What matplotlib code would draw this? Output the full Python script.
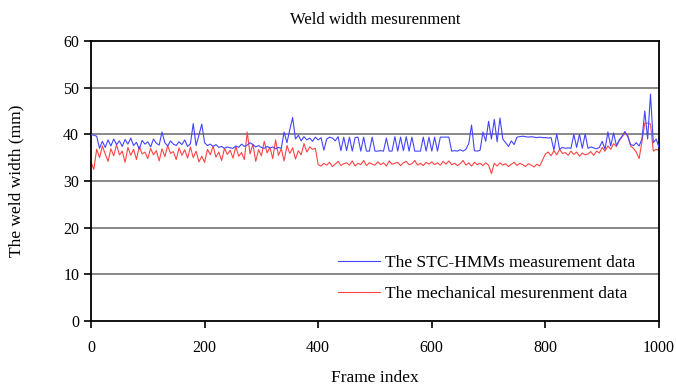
import numpy as np
import matplotlib
matplotlib.use("Agg")
from matplotlib import pyplot as plt

# frame index, one reading every 5 frames
frames = np.arange(0, 1001, 5)

# STC-HMMs measurement (mm)
stc_hmms = [
    40.0, 39.8, 39.6, 37.0, 38.5, 37.2, 38.8, 37.5, 39.0, 37.8,
    38.6, 37.4, 38.9, 37.9, 39.2, 37.6, 38.3, 36.8, 38.7, 37.9,
    38.4, 37.3, 39.0, 38.1, 37.7, 40.5, 38.2, 37.5, 38.6, 37.9,
    37.6, 38.4, 37.8, 38.8, 37.4, 38.0, 42.3, 37.6, 39.8, 42.2,
    38.2, 37.6, 37.9, 37.4, 37.8, 37.2, 37.4, 37.0, 37.3, 37.1,
    37.0, 37.5, 37.2, 37.9, 37.4, 37.7, 38.2, 37.8, 37.3, 37.6,
    37.2, 37.0, 37.4, 37.1, 37.3, 36.9, 37.2, 37.0, 40.5, 38.2,
    41.0, 43.6, 39.0, 39.8, 38.6, 39.5, 38.8, 39.2, 38.5, 39.4,
    38.8, 39.3, 36.6, 39.0, 39.4, 39.2, 38.6, 39.5, 36.5, 39.4,
    36.5, 39.4, 36.4, 39.3, 39.4, 36.4, 39.4, 36.4, 36.4, 39.4,
    36.4, 36.4, 36.5, 36.4, 39.2, 36.4, 36.4, 39.5, 36.4, 39.4,
    36.5, 39.5, 36.4, 39.4, 36.4, 36.4, 36.4, 39.4, 36.4, 39.4,
    36.4, 39.4, 36.4, 39.4, 39.4, 39.4, 39.4, 36.4, 36.5, 36.4,
    36.7, 36.4, 36.8, 38.0, 42.0, 36.5, 36.4, 36.6, 40.5, 38.5,
    42.8, 39.0, 43.2, 38.4, 43.5, 39.0, 38.2, 37.4, 38.6, 37.8,
    39.4, 39.5, 39.6, 39.5, 39.4, 39.5, 39.4, 39.3, 39.4, 39.3,
    39.3, 39.2, 39.3, 36.6, 40.1, 36.8, 37.2, 37.0, 37.1, 37.0,
    40.0, 37.2, 40.0, 37.0, 40.1, 37.0, 37.3, 37.1, 36.9, 37.2,
    38.5, 36.8, 40.5, 37.5, 40.3, 37.6, 38.8, 39.6, 40.6, 39.5,
    37.8, 37.6, 38.2, 37.5, 39.0, 45.0, 39.0, 48.6, 38.2, 39.0,
    37.2,
]

# mechanical measurement (mm)
mechanical = [
    34.0, 32.5, 36.8, 35.0, 37.5, 35.8, 34.2, 36.9, 35.4, 37.8,
    35.6, 36.4, 34.0, 37.2, 35.5, 36.8, 34.6, 37.4, 35.8, 36.2,
    34.8, 37.0, 35.6, 36.5, 34.3, 36.9, 35.2, 37.6, 35.9, 36.3,
    34.6, 37.1, 35.5, 36.7, 34.9, 37.3, 35.0, 36.4, 34.1, 35.3,
    34.0, 36.8, 35.6, 37.5, 35.1, 36.2, 34.4, 37.0, 35.7, 36.6,
    34.9, 37.4, 35.3, 36.1, 34.6, 40.5, 35.8, 37.9, 34.2, 36.7,
    35.4, 38.5, 36.0, 37.2, 34.8, 38.8, 35.5, 36.9, 34.3, 37.6,
    35.9, 37.1, 34.7, 36.5, 35.6, 38.0, 36.2, 37.3, 36.8, 37.0,
    33.5, 33.2, 33.8, 33.4, 34.0, 33.1, 33.6, 34.2, 33.3, 33.7,
    33.9, 33.4, 34.3, 33.2, 33.8, 33.5, 34.4, 33.3, 33.9, 33.6,
    33.4, 34.1, 33.5, 33.9, 33.2, 34.3, 33.6, 33.8, 34.0, 33.3,
    33.9, 34.2, 33.5, 33.7, 34.4, 33.4, 33.8, 33.3, 34.0, 33.6,
    34.1, 33.5, 33.9, 33.4, 34.2, 33.6, 34.3, 33.5, 33.8, 33.3,
    33.7, 34.4, 33.4, 33.9, 33.2, 34.0, 33.5, 33.8, 33.3, 33.9,
    33.4, 31.6, 33.8, 33.2, 33.9, 33.4, 33.7, 33.1, 33.6, 34.0,
    33.3, 33.8, 33.5, 33.1, 33.7, 33.4, 33.0, 33.6, 33.2, 34.5,
    35.8, 36.2, 35.4, 36.5, 35.6, 36.8, 35.9, 36.1, 35.5, 36.4,
    35.7, 36.2, 35.3, 36.0, 35.6, 35.8, 36.3, 35.5, 36.4, 36.0,
    37.2, 36.4, 37.5, 36.8, 38.0, 37.4, 38.6, 39.5, 40.3, 39.8,
    37.5, 37.0, 36.2, 34.8, 38.5, 42.4, 42.4, 42.2, 36.4, 36.8,
    36.5,
]

x_ticks = [0, 200, 400, 600, 800, 1000]
y_ticks = [0, 10, 20, 30, 40, 50, 60]

plt.rcParams["font.family"] = ["Liberation Serif", "DejaVu Serif"]
plt.rcParams["font.size"] = 11.5

fig = plt.figure(figsize=(6.76, 3.87), dpi=100)
ax = fig.add_axes([91 / 676, 1 - 321 / 387, 568 / 676, 280 / 387])

#gray horizontal grid
for v in y_ticks[1:-1]:
    ax.axhline(v, color="#888888", lw=1.4, zorder=1)

ax.plot(frames, stc_hmms, color="#4444ff", lw=0.8, zorder=3,
        label="The STC-HMMs measurement data")
ax.plot(frames, mechanical, color="#ff4444", lw=0.8, zorder=2,
        label="The mechanical mesurenment data")

ax.set_xlim(0, 1000)
ax.set_ylim(0, 60)
ax.set_xticks(x_ticks)
ax.set_yticks(y_ticks)
ax.tick_params(direction="out", length=5, width=1.2)
ax.tick_params(axis="x", pad=9)
for s in ax.spines.values():
    s.set_linewidth(1.3)
    s.set_color("black")

ax.set_title("Weld width mesurenment", fontsize=12, pad=12)
ax.set_xlabel("Frame index", fontsize=12.5, labelpad=10)
ax.set_ylabel("The weld width (mm)", fontsize=12.5, labelpad=28)

leg = ax.legend(loc="center left", bbox_to_anchor=(0.435, 0.152), frameon=False,
                borderpad=0, borderaxespad=0, handlelength=2.4, handletextpad=0.3,
                labelspacing=0.9, fontsize=12.5)
for h in leg.get_lines():
    h.set_linewidth(0.8)

fig.savefig("out.png", dpi=100)
